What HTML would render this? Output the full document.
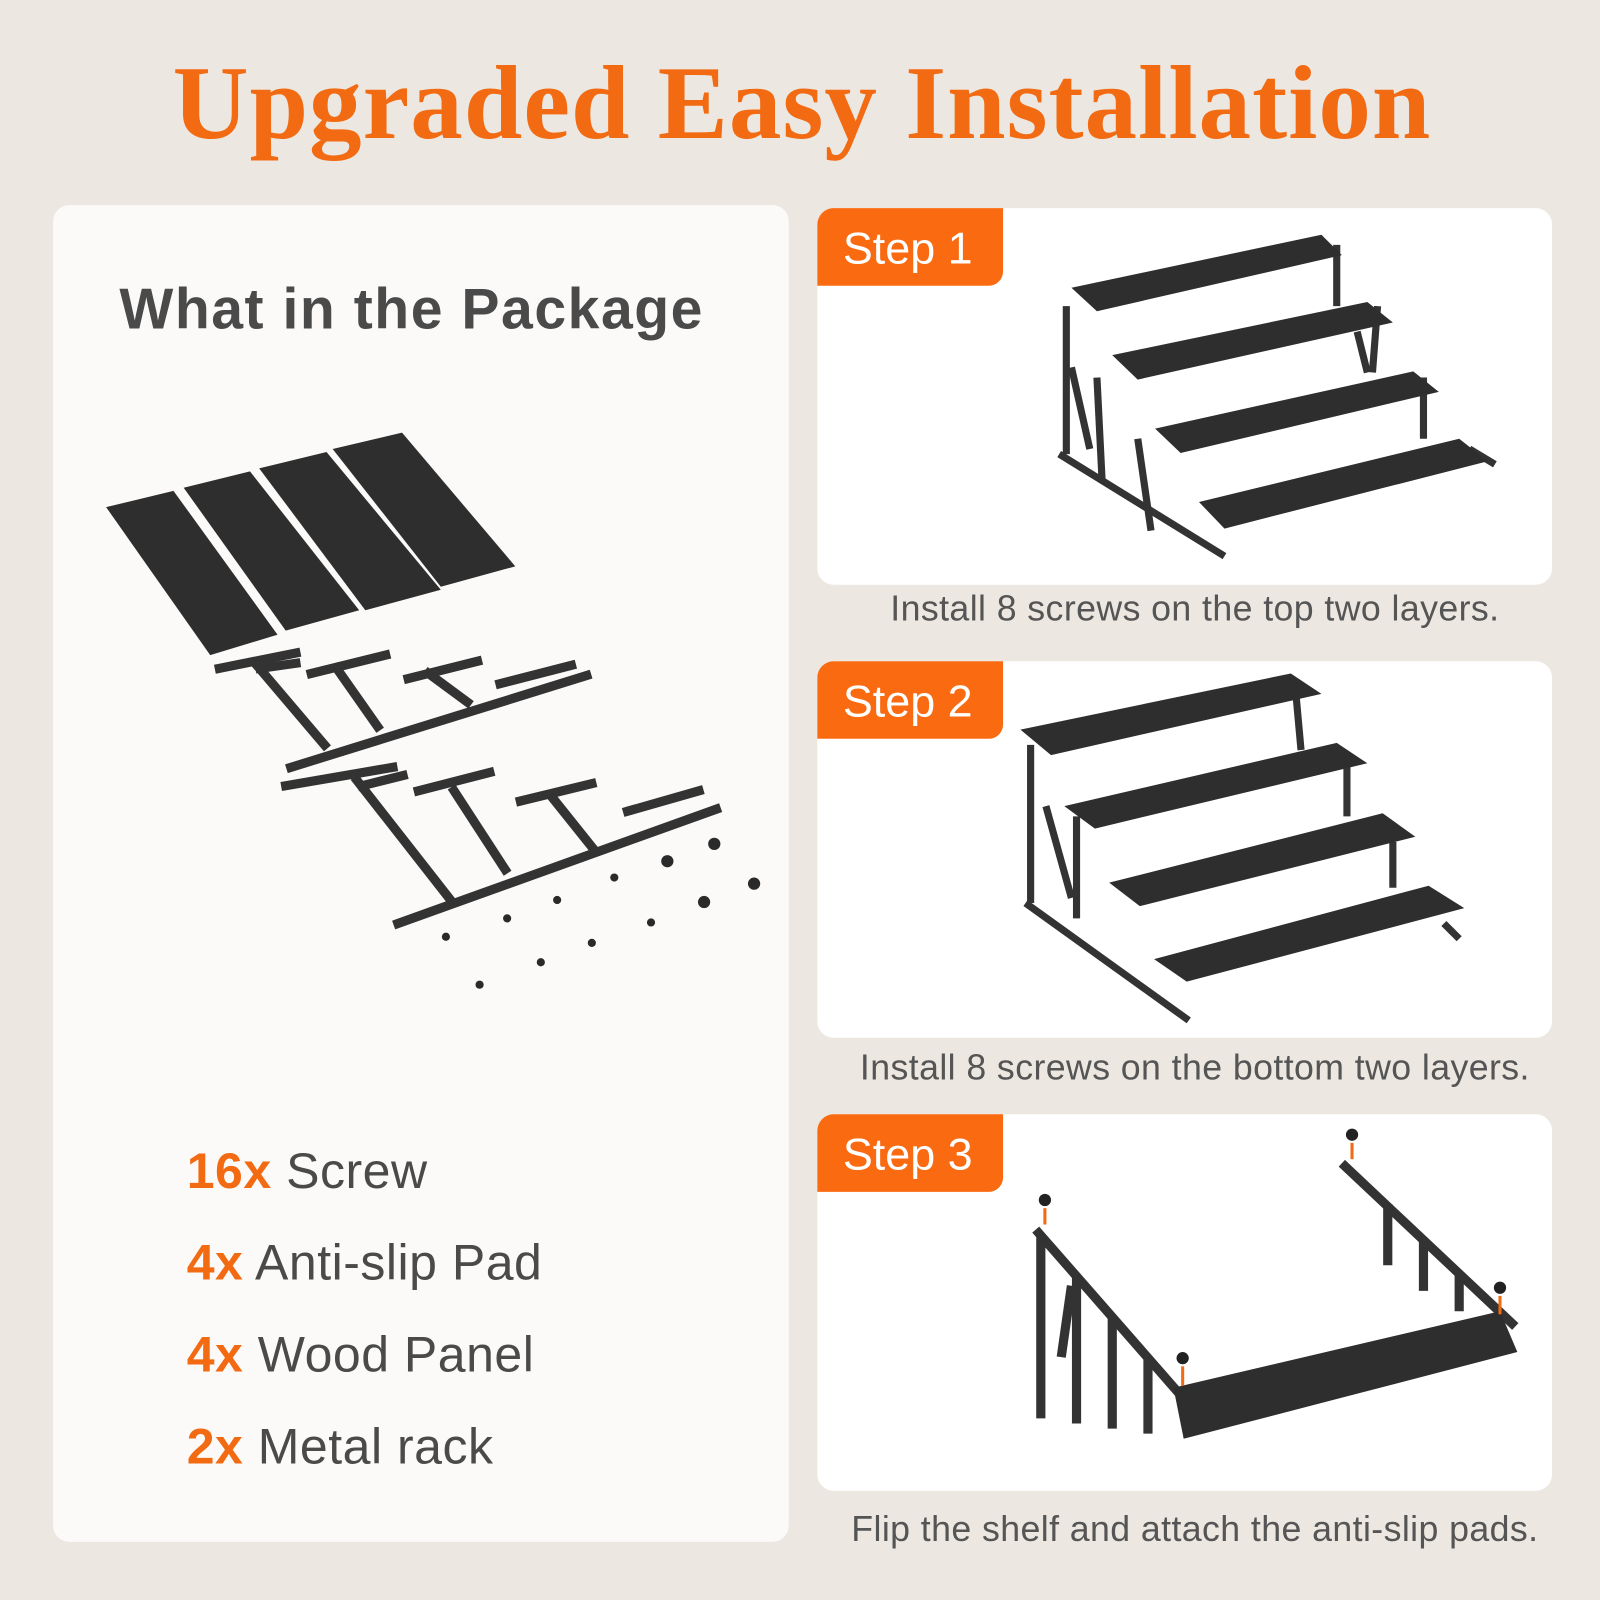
<!DOCTYPE html>
<html><head><meta charset="utf-8"><style>
html,body{margin:0;padding:0;background:#ece8e1;}
svg{display:block}
</style></head><body>
<svg width="1600" height="1600" viewBox="0 0 1568 1568" xmlns="http://www.w3.org/2000/svg">
<rect width="1568" height="1568" fill="#ece8e1"/>
<text x="786" y="135" text-anchor="middle" font-family="Liberation Serif, serif" font-weight="bold" font-size="103" letter-spacing="1" fill="#f26a12">Upgraded Easy Installation</text>

<rect x="52" y="201" width="721" height="1310" rx="16" fill="#fbfaf8"/>
<text x="117" y="322" font-family="Liberation Sans, sans-serif" font-weight="bold" font-size="56" letter-spacing="1.5" fill="#4a4a4a">What in the Package</text>

<g fill="#2e2e2e">
<polygon points="104,497 170,481 272,622 206,642"/>
<polygon points="180,478 245,462 352,598 280,618"/>
<polygon points="254,459 320,443 432,578 358,598"/>
<polygon points="326,440 394,424 505,555 432,575"/>
</g>
<g stroke="#333" stroke-width="9" fill="none" stroke-linecap="square">
<line x1="285" y1="752" x2="575" y2="662"/>
<line x1="250" y1="650" x2="318" y2="730"/>
<line x1="255" y1="655" x2="290" y2="650"/>
<line x1="330" y1="655" x2="370" y2="712"/>
<line x1="420" y1="660" x2="458" y2="688"/>
<line x1="215" y1="655" x2="290" y2="640"/>
<line x1="305" y1="660" x2="378" y2="642"/>
<line x1="400" y1="665" x2="468" y2="648"/>
<line x1="490" y1="670" x2="560" y2="652"/>
<line x1="390" y1="905" x2="702" y2="793"/>
<line x1="350" y1="765" x2="440" y2="880"/>
<line x1="355" y1="770" x2="395" y2="760"/>
<line x1="445" y1="775" x2="495" y2="852"/>
<line x1="540" y1="780" x2="580" y2="830"/>
<line x1="280" y1="770" x2="385" y2="752"/>
<line x1="410" y1="775" x2="480" y2="757"/>
<line x1="510" y1="785" x2="580" y2="768"/>
<line x1="615" y1="795" x2="685" y2="775"/>
</g>
<g fill="#2a2a2a">
<circle cx="700" cy="827" r="6"/><circle cx="654" cy="844" r="6"/><circle cx="690" cy="884" r="6"/><circle cx="739" cy="866" r="6"/>
<circle cx="437" cy="918" r="4"/><circle cx="497" cy="900" r="4"/><circle cx="546" cy="882" r="4"/><circle cx="602" cy="860" r="4"/>
<circle cx="470" cy="965" r="4"/><circle cx="530" cy="943" r="4"/><circle cx="580" cy="924" r="4"/><circle cx="638" cy="904" r="4"/>
</g>

<g font-family="Liberation Sans, sans-serif" font-size="49" letter-spacing="0.5" fill="#4a4a4a">
<text x="183" y="1164"><tspan fill="#f26a12" font-weight="bold">16x</tspan> Screw</text>
<text x="183" y="1254"><tspan fill="#f26a12" font-weight="bold">4x</tspan> Anti-slip Pad</text>
<text x="183" y="1344"><tspan fill="#f26a12" font-weight="bold">4x</tspan> Wood Panel</text>
<text x="183" y="1434"><tspan fill="#f26a12" font-weight="bold">2x</tspan> Metal rack</text>
</g>

<rect x="801" y="204" width="720" height="369" rx="16" fill="#ffffff"/>
<rect x="801" y="648" width="720" height="369" rx="16" fill="#ffffff"/>
<rect x="801" y="1092" width="720" height="369" rx="16" fill="#ffffff"/>
<g fill="#fa6a10">
<path d="M801,220 a16,16 0 0 1 16,-16 H983 V266 a14,14 0 0 1 -14,14 H801 Z"/>
<path d="M801,664 a16,16 0 0 1 16,-16 H983 V710 a14,14 0 0 1 -14,14 H801 Z"/>
<path d="M801,1108 a16,16 0 0 1 16,-16 H983 V1154 a14,14 0 0 1 -14,14 H801 Z"/>
</g>
<g font-family="Liberation Sans, sans-serif" font-size="44" fill="#fff">
<text x="826" y="258">Step 1</text>
<text x="826" y="702">Step 2</text>
<text x="826" y="1146">Step 3</text>
</g>
<g font-family="Liberation Sans, sans-serif" font-size="35" letter-spacing="0.4" fill="#555" text-anchor="middle">
<text x="1171" y="608">Install 8 screws on the top two layers.</text>
<text x="1171" y="1058">Install 8 screws on the bottom two layers.</text>
<text x="1171" y="1510">Flip the shelf and attach the anti-slip pads.</text>
</g>

<g stroke="#333" stroke-width="7" fill="none">
<line x1="1045" y1="300" x2="1045" y2="445"/><line x1="1038" y1="445" x2="1200" y2="545"/>
<line x1="1075" y1="370" x2="1080" y2="470"/><line x1="1115" y1="430" x2="1128" y2="520"/>
<line x1="1310" y1="240" x2="1310" y2="300"/><line x1="1350" y1="300" x2="1345" y2="365"/>
<line x1="1395" y1="370" x2="1395" y2="430"/><line x1="1440" y1="440" x2="1465" y2="455"/>
<line x1="1050" y1="360" x2="1068" y2="440"/><line x1="1330" y1="325" x2="1340" y2="365"/>
</g>
<g fill="#2e2e2e">
<polygon points="1050,282 1295,230 1315,250 1075,305"/>
<polygon points="1090,348 1340,296 1365,316 1115,372"/>
<polygon points="1132,420 1385,364 1410,384 1157,444"/>
<polygon points="1175,492 1430,430 1458,452 1200,518"/>
</g>
<g stroke="#333" stroke-width="7" fill="none">
<line x1="1010" y1="730" x2="1010" y2="885"/><line x1="1005" y1="885" x2="1165" y2="1000"/>
<line x1="1055" y1="800" x2="1055" y2="900"/><line x1="1270" y1="680" x2="1275" y2="735"/>
<line x1="1320" y1="750" x2="1320" y2="800"/><line x1="1365" y1="825" x2="1365" y2="870"/>
<line x1="1025" y1="790" x2="1050" y2="880"/><line x1="1415" y1="905" x2="1430" y2="920"/>
</g>
<g fill="#2e2e2e">
<polygon points="1000,715 1265,660 1295,680 1030,740"/>
<polygon points="1043,790 1310,728 1340,748 1073,812"/>
<polygon points="1087,865 1355,797 1387,820 1117,888"/>
<polygon points="1131,940 1400,868 1435,890 1163,962"/>
</g>
<g stroke="#333" stroke-width="9" fill="none">
<line x1="1015" y1="1205" x2="1155" y2="1365"/>
<line x1="1315" y1="1140" x2="1485" y2="1300"/>
<line x1="1020" y1="1210" x2="1020" y2="1390"/>
<line x1="1055" y1="1250" x2="1055" y2="1395"/>
<line x1="1090" y1="1290" x2="1090" y2="1400"/>
<line x1="1125" y1="1330" x2="1125" y2="1405"/>
<line x1="1050" y1="1260" x2="1040" y2="1330"/>
<line x1="1360" y1="1180" x2="1360" y2="1240"/>
<line x1="1395" y1="1215" x2="1395" y2="1265"/>
<line x1="1430" y1="1250" x2="1430" y2="1285"/>
</g>
<polygon points="1150,1360 1470,1285 1487,1325 1160,1410" fill="#2e2e2e"/>
<g fill="#222"><circle cx="1024" cy="1176" r="6"/><circle cx="1325" cy="1112" r="6"/><circle cx="1159" cy="1331" r="6"/><circle cx="1470" cy="1262" r="6"/></g>
<g stroke="#f26a12" stroke-width="3"><line x1="1024" y1="1184" x2="1024" y2="1200"/><line x1="1325" y1="1120" x2="1325" y2="1136"/><line x1="1159" y1="1339" x2="1159" y2="1358"/><line x1="1470" y1="1270" x2="1470" y2="1288"/></g>
</svg>
</body></html>
